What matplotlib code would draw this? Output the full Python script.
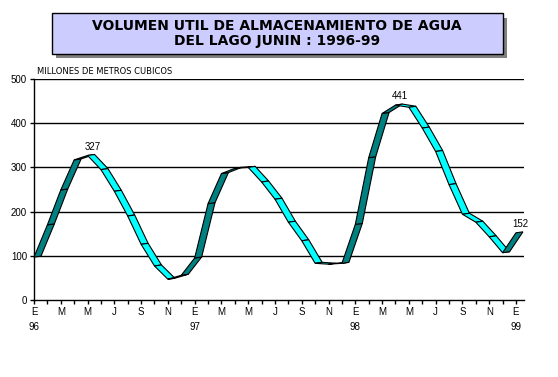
import numpy as np
import matplotlib
matplotlib.use("Agg")
import matplotlib.pyplot as plt
from matplotlib.patches import Polygon, Rectangle

# monthly useful storage volume, Jan 1996 .. Jan 1999 (million m3)
volumes = [97, 170, 249, 317, 327, 295, 246, 190, 126, 77, 47, 56,
           95, 218, 286, 298, 300, 267, 228, 176, 134, 83, 81, 83,
           171, 322, 422, 441, 436, 389, 336, 261, 194, 176, 143, 107,
           152]
month_letters = ["E", "F", "M", "A", "M", "J", "J", "A", "S", "O", "N", "D"]
years = ["96", "97", "98", "99"]
labelled = {4: "327", 27: "441", 36: "152"}
y_ticks = [0, 100, 200, 300, 400, 500]

title_lines = ["VOLUMEN UTIL DE ALMACENAMIENTO DE AGUA", "DEL LAGO JUNIN : 1996-99"]
unit_label = "MILLONES DE METROS CUBICOS"

W, H = 558, 377
fig = plt.figure(figsize=(W / 100, H / 100), dpi=100)
fig.patch.set_facecolor("white")
ax = fig.add_axes([34 / W, 1 - 300 / H, 490 / W, 221 / H])

n = len(volumes)
x = np.arange(n)
xmax = n - 1 + 0.6
ax.set_xlim(0, xmax)
ax.set_ylim(0, 500)

# pixel -> data conversion for the 3D ribbon depth
px_x = xmax / ax.bbox.width
px_y = 500 / ax.bbox.height
dx, dy = 7 * px_x, 1 * px_y

for i in range(n - 1):
    y0, y1 = volumes[i], volumes[i + 1]
    col = "#008080" if y1 >= y0 else "#00FFFF"
    pts = [(x[i], y0), (x[i + 1], y1), (x[i + 1] + dx, y1 + dy), (x[i] + dx, y0 + dy)]
    ax.add_patch(Polygon(pts, closed=True, facecolor=col, edgecolor="black",
                         linewidth=0.8, zorder=3, clip_on=False))

for i, txt in labelled.items():
    ax.annotate(txt, (x[i] + dx / 2, volumes[i] + dy), xytext=(1, 2),
                textcoords="offset points", ha="center", va="bottom",
                fontsize=7, family="Liberation Sans", zorder=4)

# axes styling
for s in ["top", "right"]:
    ax.spines[s].set_visible(False)
ax.spines["left"].set_linewidth(1)
ax.spines["bottom"].set_linewidth(1)
ax.set_yticks(y_ticks)
ax.set_yticklabels([str(v) for v in y_ticks], fontsize=7, family="Liberation Sans")
for v in y_ticks[1:]:
    ax.axhline(v, color="black", linewidth=1, zorder=1)

tick_labels = []
for i in range(n):
    m = i % 12
    if m == 0:
        tick_labels.append(month_letters[m] + "\n" + years[i // 12])
    elif m % 2 == 0:
        tick_labels.append(month_letters[m])
    else:
        tick_labels.append("")
ax.set_xticks(x)
ax.set_xticklabels(tick_labels, fontsize=7, family="Liberation Sans", linespacing=1.6)
ax.tick_params(axis="both", length=3, width=1, color="black", pad=2)

fig.text(37 / W, 1 - 71 / H, unit_label, fontsize=6, family="DejaVu Sans",
         va="center", ha="left")

# title box with shadow
fig.patches.append(Rectangle((56 / W, 1 - 58 / H), 451 / W, 40 / H,
                             transform=fig.transFigure, facecolor="#808080",
                             edgecolor="none"))
fig.patches.append(Rectangle((52 / W, 1 - 54 / H), 451 / W, 41 / H,
                             transform=fig.transFigure, facecolor="#CCCCFF",
                             edgecolor="black", linewidth=1))
fig.text(277 / W, 1 - 26 / H, title_lines[0], ha="center", va="center",
         fontsize=10, fontweight="bold", family="DejaVu Sans")
fig.text(277 / W, 1 - 41.5 / H, title_lines[1], ha="center", va="center",
         fontsize=10, fontweight="bold", family="DejaVu Sans")

fig.savefig("out.png", dpi=100)
